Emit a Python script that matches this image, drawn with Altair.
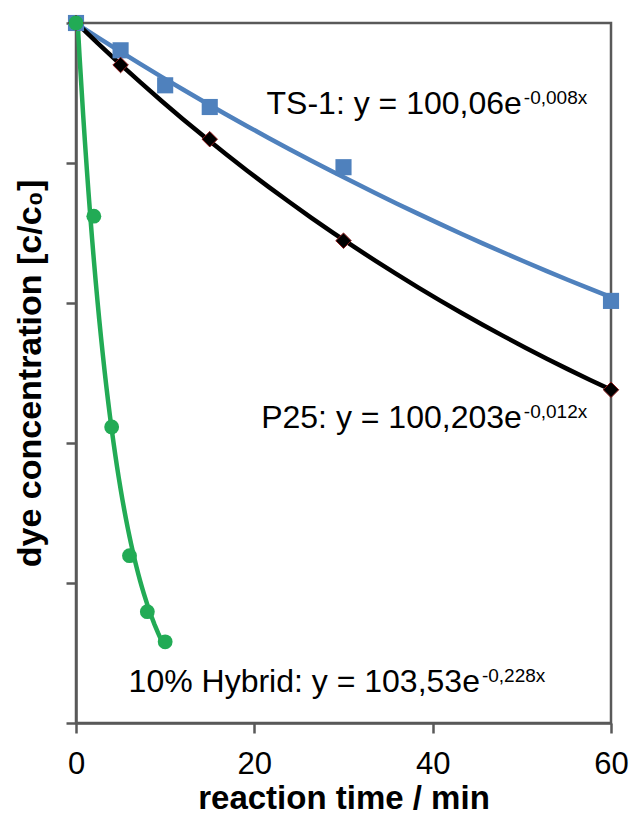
import altair as alt
import pandas as pd

# ---- data ----
series_names = ["TS-1", "P25", "10% Hybrid"]

time_ts1 = [0, 5, 10, 15, 30, 60]
conc_ts1 = [100, 96.1, 91.1, 88.0, 79.4, 60.3]

time_p25 = [0, 5, 15, 30, 60]
conc_p25 = [100, 94.0, 83.4, 68.9, 47.6]

time_hyb = [0, 2, 4, 6, 8, 10]
conc_hyb = [100, 72.4, 42.3, 23.9, 15.9, 11.6]

x_ticks = [0, 20, 40, 60]
y_ticks = [0, 20, 40, 60, 80, 100]

eq_main = ["TS-1: y = 100,06e", "P25: y = 100,203e", "10% Hybrid: y = 103,53e"]
eq_exp = ["-0,008x", "-0,012x", "-0,228x"]
eq_time = [50.0, 50.0, 45.3]
eq_conc = [87.0, 42.1, 4.4]

# ---- styling ----
FONT = "Liberation Sans"
BLUE = "#4F81BD"
BLACK = "#000000"
GREEN = "#22AB55"
AXIS_GRAY = "#595959"

rows = []
for name, xs, ys in [("TS-1", time_ts1, conc_ts1), ("P25", time_p25, conc_p25),
                     ("10% Hybrid", time_hyb, conc_hyb)]:
    for t, c in zip(xs, ys):
        rows.append({"series": name, "time": t, "conc": c})
df = pd.DataFrame(rows)

ann = pd.DataFrame({"series": series_names, "main": eq_main, "exp": eq_exp,
                    "time": eq_time, "conc": eq_conc})

x_scale = alt.Scale(domain=[0, 60], nice=False, zero=False)
y_scale = alt.Scale(domain=[0, 100], nice=False, zero=False)

x_axis = alt.Axis(values=x_ticks, grid=False, tickSize=10, tickWidth=2.5, tickColor=AXIS_GRAY,
                  domainColor=AXIS_GRAY, domainWidth=2.5, labelFontSize=31, labelFont=FONT,
                  labelColor="#000", labelPadding=16, labelFlush=False, labelOverlap=False,
                  labelBound=False, title="reaction time / min", titleFont=FONT,
                  titleFontSize=33, titleFontWeight="bold", titleColor="#000", titlePadding=3)
y_axis = alt.Axis(values=y_ticks, grid=False, labels=False, tickSize=10, tickWidth=2.5,
                  tickColor=AXIS_GRAY, domainColor=AXIS_GRAY, domainWidth=2.5,
                  title="dye concentration [c/c₀]", titleFont=FONT, titleFontSize=34,
                  titleFontWeight="bold", titleColor="#000", titlePadding=17)

X = alt.X("time:Q", scale=x_scale, axis=x_axis)
Y = alt.Y("conc:Q", scale=y_scale, axis=y_axis)

color_scale = alt.Scale(domain=series_names, range=[BLUE, BLACK, GREEN])

trend = alt.Chart(df).transform_regression(
    "time", "conc", method="exp", groupby=["series"]
).mark_line(clip=True, strokeWidth=4.5).encode(
    x=X, y=Y, color=alt.Color("series:N", scale=color_scale, legend=None),
    detail="series:N"
)

sq = alt.Chart(df).transform_filter(alt.datum.series == "TS-1").mark_point(
    shape="square", filled=True, size=260, color=BLUE, opacity=1
).encode(x=X, y=Y)

dia = alt.Chart(df).transform_filter(alt.datum.series == "P25").mark_point(
    shape="diamond", filled=True, size=240, fill=BLACK, stroke="#8B1A1A", strokeWidth=1, opacity=1
).encode(x=X, y=Y)

circ = alt.Chart(df).transform_filter(alt.datum.series == "10% Hybrid").mark_point(
    shape="circle", filled=True, size=220, color=GREEN, opacity=1
).encode(x=X, y=Y)

main_txt = alt.Chart(ann).mark_text(
    align="right", baseline="alphabetic", font=FONT, fontSize=32, color="#000"
).encode(x=X, y=Y, text="main:N")

exp_txt = alt.Chart(ann).mark_text(
    align="left", baseline="alphabetic", font=FONT, fontSize=19, color="#000", dx=2, dy=-10
).encode(x=X, y=Y, text="exp:N")

chart = alt.layer(trend, sq, dia, circ, main_txt, exp_txt).properties(
    width=535, height=700,
    background="white",
    autosize=alt.AutoSizeParams(type="none"),
    padding={"left": 68, "top": 15, "right": 18, "bottom": 94},
).configure_view(stroke=AXIS_GRAY, strokeWidth=2.5)

chart.save("out.html", embed_options={"renderer": "svg", "actions": False})
